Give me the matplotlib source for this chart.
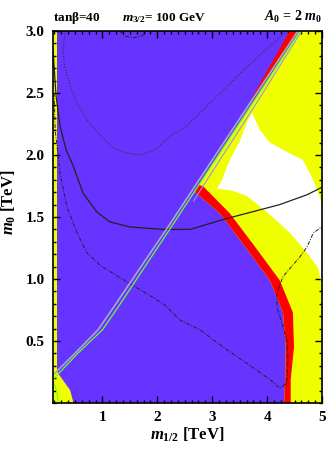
import matplotlib
matplotlib.use("Agg")
import matplotlib.pyplot as plt
from matplotlib.ticker import MultipleLocator
from matplotlib.patches import Polygon

plt.rcParams['font.family'] = ['Liberation Serif', 'DejaVu Serif']
plt.rcParams['font.weight'] = 'bold'
plt.rcParams['mathtext.fontset'] = 'custom'
plt.rcParams['mathtext.rm'] = 'Liberation Serif:bold'
plt.rcParams['mathtext.it'] = 'Liberation Serif:bold:italic'
plt.rcParams['mathtext.bf'] = 'Liberation Serif:bold'

# region outlines (m_1/2, m_0) in TeV
left_yellow_x = [0.10, 0.173, 0.173, 0.19, 0.28, 0.41, 0.46, 0.47, 0.10]
left_yellow_y = [3.00, 3.00, 0.26, 0.24, 0.185, 0.105, 0.024, 0.0, 0.0]

red_left_x = [2.69, 3.14, 3.60, 4.05, 4.29, 4.34, 4.33, 4.31]
red_left_y = [1.70, 1.53, 1.26, 0.99, 0.73, 0.45, 0.19, 0.00]
red_right_x = [2.83, 3.32, 3.78, 4.23, 4.47, 4.49, 4.43, 4.43]
red_right_y = [1.75, 1.53, 1.26, 0.99, 0.73, 0.45, 0.19, 0.00]

red_top_x = [4.41, 4.58, 3.74, 3.70]
red_top_y = [3.00, 3.00, 2.44, 2.44]

white_x = [3.725, 3.87, 4.05, 4.38, 4.65, 4.84, 4.96, 5.0, 5.0, 4.93, 4.73, 4.42,
           4.05, 3.63, 3.38, 3.09, 3.18, 3.32, 3.51, 3.65]
white_y = [2.339, 2.20, 2.10, 2.02, 1.96, 1.80, 1.66, 1.60, 0.95, 1.09, 1.21, 1.37,
           1.52, 1.67, 1.71, 1.73, 1.80, 1.96, 2.12, 2.28]

gray_x = [0.10, 0.50, 0.92, 1.20, 1.78, 2.18, 3.69, 4.56]
gray_y = [0.226, 0.40, 0.59, 0.77, 1.15, 1.41, 2.42, 3.00]
green_x = [0.10, 0.55, 1.00, 1.28, 1.85, 2.24, 3.74, 4.60]
green_y = [0.19, 0.40, 0.59, 0.77, 1.15, 1.41, 2.42, 3.00]
gray2_x = [2.66, 3.78, 4.63]
gray2_y = [1.63, 2.40, 3.00]
green_low_x = [0.10, 0.15, 0.18, 0.19]
green_low_y = [0.17, 0.12, 0.07, 0.00]

dot_x = [0.32, 0.28, 0.32, 0.45, 0.555, 0.74, 0.90, 1.19, 1.41, 1.68, 1.96, 2.23,
         2.50, 3.01, 3.63, 4.18, 4.36]
dot_y = [3.00, 2.83, 2.70, 2.51, 2.40, 2.27, 2.19, 2.06, 2.02, 2.00, 2.04, 2.15,
         2.22, 2.44, 2.71, 2.93, 3.00]

solid_x = [0.10, 0.155, 0.23, 0.34, 0.46, 0.65, 0.90, 1.14, 1.50, 2.10, 2.60, 3.20,
           3.63, 4.23, 4.73, 5.0]
solid_y = [2.85, 2.48, 2.23, 2.04, 1.92, 1.69, 1.54, 1.46, 1.42, 1.40, 1.40, 1.48,
           1.53, 1.60, 1.68, 1.74]

dashdot_x = [0.12, 0.14, 0.23, 0.355, 0.54, 0.72, 0.96, 1.32, 1.78, 2.14, 2.41, 2.78,
             3.20, 3.63, 4.05, 4.23, 4.36, 4.38, 4.36, 4.18, 4.18, 4.29, 4.60, 4.73,
             4.84, 4.96, 5.0]
dashdot_y = [2.50, 2.20, 1.85, 1.58, 1.37, 1.21, 1.11, 1.01, 0.89, 0.79, 0.67, 0.59,
             0.45, 0.32, 0.19, 0.12, 0.16, 0.35, 0.51, 0.77, 0.89, 1.02, 1.18, 1.26,
             1.37, 1.41, 1.43]
arc_x = [1.32, 1.40, 1.56, 1.72, 1.81]
arc_y = [3.00, 2.96, 2.945, 2.96, 3.00]

purple = '#6633ff'
yellow = '#f0ff00'

fig = plt.figure(figsize=(3.27, 4.51), dpi=100)
ax = fig.add_axes([53 / 327, 48 / 451, 269 / 327, 372 / 451])
ax.set_facecolor(purple)
ax.set_xlim(0.1, 5.0)
ax.set_ylim(0.0, 3.0)

ax.add_patch(Polygon(list(zip(left_yellow_x, left_yellow_y)), closed=True,
                     facecolor=yellow, edgecolor='none', zorder=1))
# yellow region right of the diagonal and the red band
upper = [(x, y) for x, y in zip(green_x, green_y) if y > 1.7]
yel = [(2.69, 1.70), (2.745, 1.75)] + upper + [(5.0, 3.0), (5.0, 0.0)]
yel += list(zip(red_left_x, red_left_y))[::-1]
ax.add_patch(Polygon(yel, closed=True, facecolor=yellow, edgecolor='none', zorder=1))

red_band = list(zip(red_left_x, red_left_y)) + list(zip(red_right_x, red_right_y))[::-1] + [(2.74, 1.76)]
ax.add_patch(Polygon(red_band, closed=True, facecolor='#ff0000', edgecolor='none', zorder=2))
ax.add_patch(Polygon(list(zip(red_top_x, red_top_y)), closed=True,
                     facecolor='#ff0000', edgecolor='none', zorder=2))
ax.add_patch(Polygon(list(zip(white_x, white_y)), closed=True,
                     facecolor='white', edgecolor='none', zorder=3))

ax.plot(dot_x, dot_y, color='#333333', lw=0.8, ls=(0, (1, 1.5)), zorder=4)
ax.plot(solid_x, solid_y, color='#222222', lw=0.9, zorder=4)
ax.plot(dashdot_x, dashdot_y, color='#222222', lw=0.7, ls=(0, (4, 1.5, 1, 1.5)), zorder=4)
ax.plot(arc_x, arc_y, color='#222222', lw=0.7, ls=(0, (4, 1.5, 1, 1.5)), zorder=4)

ax.plot(gray_x, gray_y, color='#a8a8c8', lw=1.2, zorder=5)
ax.plot(green_x, green_y, color='#66ff33', lw=0.9, zorder=5)
ax.plot(gray2_x, gray2_y, color='#9f90e8', lw=0.8, zorder=5)
ax.plot(green_low_x, green_low_y, color='#66ff33', lw=0.9, zorder=5)

ax.xaxis.set_major_locator(MultipleLocator(1.0))
ax.xaxis.set_minor_locator(MultipleLocator(0.125))
ax.yaxis.set_major_locator(MultipleLocator(0.5))
ax.yaxis.set_minor_locator(MultipleLocator(0.1))
ax.tick_params(which='both', direction='in', top=True, right=True, width=1.0)
ax.tick_params(which='major', length=5, labelsize=11, pad=6)
ax.tick_params(which='minor', length=2.5)
ax.set_yticks([0.5, 1.0, 1.5, 2.0, 2.5, 3.0])
ax.set_yticklabels(['0.5', '1.0', '1.5', '2.0', '2.5', '3.0'])
ax.set_xticks([1, 2, 3, 4, 5])
ax.set_xticklabels(['1', '2', '3', '4', '5'])
for sp in ax.spines.values():
    sp.set_linewidth(1.2)
    sp.set_zorder(6)

ax.set_xlabel(r'$m_{1/2}$ [TeV]', fontsize=12, fontweight='bold', labelpad=1)
ax.set_ylabel(r'$m_0$ [TeV]', fontsize=12, fontweight='bold')
ax.yaxis.set_label_coords(-0.13, 0.54)

fig.text(53 / 327, 1 - 21 / 451, r'tan$\mathrm{\beta}$=40', fontsize=9.5, ha='left', va='baseline')
fig.text(164 / 327, 1 - 21 / 451, r'$m_{3/2}$= 100 GeV', fontsize=9.5, ha='center', va='baseline')
fig.text(322 / 327, 1 - 21 / 451, r'$A_0$ = 2 $m_0$', fontsize=10, ha='right', va='baseline')

fig.savefig('out.png', dpi=100)
